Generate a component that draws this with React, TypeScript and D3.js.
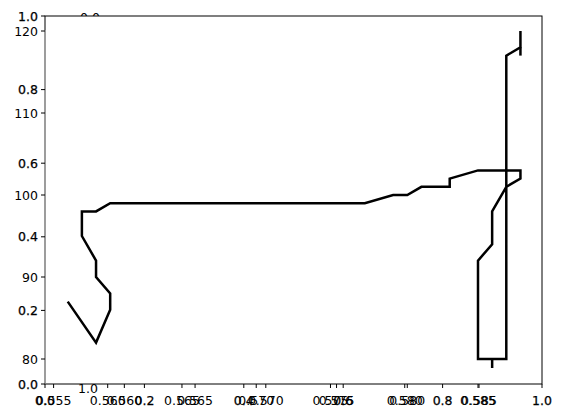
import React from 'react';
import * as d3 from 'd3';

const W = 563;
const H = 418;
const BOX = { left: 45, right: 542, top: 16, bottom: 384 };

// profile data (x value, depth)
const profileX = [0.556, 0.558, 0.559, 0.559, 0.558, 0.558, 0.557, 0.557, 0.558, 0.559, 0.577, 0.579, 0.580, 0.581, 0.583, 0.583, 0.585, 0.588, 0.588, 0.587, 0.586, 0.586, 0.585, 0.585, 0.587, 0.587, 0.588, 0.588];
const profileY = [87, 82, 86, 88, 90, 92, 95, 98, 98, 99, 99, 100, 100, 101, 101, 102, 103, 103, 102, 101, 98, 94, 92, 80, 80, 117, 118, 120];
const stubs: [number, number, number][] = [[0.588, 117, 118], [0.586, 78.9, 80]];

const unitTicks = [0, 0.2, 0.4, 0.6, 0.8, 1.0];
const depthTicks = [80, 90, 100, 110, 120];
const xTicksA = [0.555, 0.56, 0.565, 0.57, 0.575, 0.58, 0.585];
const xTicksB = [0.56, 0.565, 0.57, 0.575, 0.58, 0.585];

const App = () => {
  const xUnit = d3.scaleLinear().domain([0, 1]).range([BOX.left, BOX.right]);
  const yUnit = d3.scaleLinear().domain([0, 1]).range([BOX.bottom, BOX.top]);
  const xA = d3.scaleLinear().domain([0.555, 0.585]).range([53.6, 478]);
  const xB = d3.scaleLinear().domain([0.56, 0.585]).range([107.7, 479]);
  const yD = d3.scaleLinear().domain([80, 120]).range([359, 31]);

  const line = d3.line<number>().x((_, i) => xA(profileX[i])).y((_, i) => yD(profileY[i]));
  const font = { fontFamily: 'DejaVu Sans', fontSize: 12.5 };
  const bold = { ...font, stroke: '#000', strokeWidth: 0.25 };

  return (
    <svg width={W} height={H} style={{ position: 'absolute', left: 0, top: 0 }}>
      <rect width={W} height={H} fill="#fff" />
      <text x={90} y={22} textAnchor="middle" {...font}>0.0</text>
      <text x={88} y={393} textAnchor="middle" {...font}>1.0</text>
      <rect x={BOX.left} y={BOX.top} width={BOX.right - BOX.left} height={BOX.bottom - BOX.top} fill="#fff" />
      <path d={line(profileX) || ''} fill="none" stroke="#000" strokeWidth={2.5} strokeLinejoin="miter" />
      {stubs.map(([x, y0, y1], i) => (
        <line key={i} x1={xA(x)} x2={xA(x)} y1={yD(y0)} y2={yD(y1)} stroke="#000" strokeWidth={2.5} />
      ))}
      <rect x={BOX.left} y={BOX.top} width={BOX.right - BOX.left} height={BOX.bottom - BOX.top} fill="none" stroke="#000" strokeWidth={1} />
      <line x1={BOX.left} x2={BOX.left} y1={BOX.top + 14} y2={BOX.bottom} stroke="#bbb" strokeWidth={1} />
      {unitTicks.map(t => (
        <g key={'u' + t}>
          <line x1={xUnit(t)} x2={xUnit(t)} y1={BOX.bottom} y2={BOX.bottom + 4} stroke="#000" />
          <text x={xUnit(t)} y={BOX.bottom + 21} textAnchor="middle" {...bold}>{t.toFixed(1)}</text>
          <line x1={BOX.left - 4} x2={BOX.left} y1={yUnit(t)} y2={yUnit(t)} stroke="#000" />
          <text x={BOX.left - 7} y={yUnit(t) + 4.5} textAnchor="end" {...bold}>{t.toFixed(1)}</text>
        </g>
      ))}
      {depthTicks.map(t => (
        <g key={'d' + t}>
          <line x1={BOX.left - 4} x2={BOX.left} y1={yD(t)} y2={yD(t)} stroke="#000" />
          <text x={BOX.left - 7} y={yD(t) + 4.5} textAnchor="end" {...font}>{t}</text>
        </g>
      ))}
      {xTicksA.map(t => (
        <g key={'a' + t}>
          <line x1={xA(t)} x2={xA(t)} y1={BOX.bottom} y2={BOX.bottom + 4} stroke="#000" />
          <text x={xA(t)} y={BOX.bottom + 21} textAnchor="middle" {...font}>{t.toFixed(3)}</text>
        </g>
      ))}
      {xTicksB.map(t => (
        <g key={'b' + t}>
          <line x1={xB(t)} x2={xB(t)} y1={BOX.bottom} y2={BOX.bottom + 4} stroke="#000" />
          <text x={xB(t)} y={BOX.bottom + 21} textAnchor="middle" {...font}>{t.toFixed(3)}</text>
        </g>
      ))}
    </svg>
  );
};

export default App;
